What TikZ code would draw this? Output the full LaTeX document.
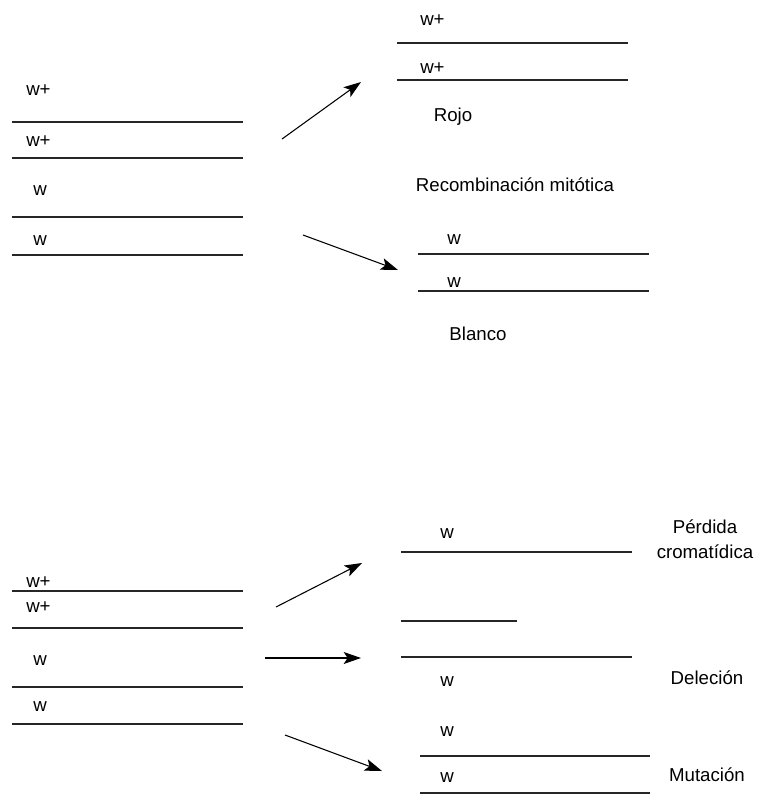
\documentclass[tikz,border=0pt]{standalone}
\usepackage{fontspec}
\setmainfont{Liberation Sans}
\usetikzlibrary{arrows.meta}
\tikzset{
  chrom/.style={line width=0.9pt, draw=black!85},
  gene/.style={anchor=base west, inner sep=0pt, font=\fontsize{14}{16}\selectfont},
  lbl/.style={anchor=base, inner sep=0pt, font=\fontsize{14}{16.5}\selectfont, align=center},
  arr/.style={line width=0.8pt, -{Stealth[length=13pt,width=9pt,inset=3pt]}}
}
\begin{document}
\begin{tikzpicture}[x=0.75pt,y=-0.75pt]
\useasboundingbox (0,0) rectangle (765,794);
% ---- top left
\node[gene] (g1) at (26,95) {w+};
\draw[chrom] (12,122) -- (243,122);
\node[gene] (g2) at (26,146) {w+};
\draw[chrom] (12,158) -- (243,158);
\node[gene] (g3) at (33,195) {w};
\draw[chrom] (12,217) -- (243,217);
\node[gene] (g4) at (33,245) {w};
\draw[chrom] (12,255) -- (243,255);
% arrows top
\coordinate (a1s) at (282,139); \coordinate (a1e) at (361,82);
\coordinate (a2s) at (303,235); \coordinate (a2e) at (398,270);
\draw[arr] (a1s) -- (a1e);
\draw[arr] (a2s) -- (a2e);
% ---- top right
\node[gene] (r1) at (420,25) {w+};
\draw[chrom] (397,43) -- (628,43);
\node[gene] (r2) at (420,73) {w+};
\draw[chrom] (397,80) -- (628,80);
\node[lbl] (rojo) at (453,121) {Rojo};
\node[lbl] (recomb) at (515,191) {Recombinación mitótica};
\node[gene] (r3) at (447,244) {w};
\draw[chrom] (418,254) -- (649,254);
\node[gene] (r4) at (447,287) {w};
\draw[chrom] (418,291) -- (649,291);
\node[lbl] (blanco) at (478,340) {Blanco};
% ---- bottom left
\node[gene] (b1) at (26,587) {w+};
\draw[chrom] (12,591) -- (243,591);
\node[gene] (b2) at (26,612) {w+};
\draw[chrom] (12,628) -- (243,628);
\node[gene] (b3) at (33,665) {w};
\draw[chrom] (12,687) -- (243,687);
\node[gene] (b4) at (33,711) {w};
\draw[chrom] (12,724) -- (243,724);
% arrows bottom
\coordinate (a3s) at (276,607); \coordinate (a3e) at (362,563);
\coordinate (a4s) at (265,658); \coordinate (a4e) at (361,658);
\coordinate (a5s) at (285,735); \coordinate (a5e) at (382,771);
\draw[arr] (a3s) -- (a3e);
\draw[arr] (a4s) -- (a4e);
\draw[arr] (a5s) -- (a5e);
% ---- bottom right
\node[gene] (c1) at (440,538) {w};
\draw[chrom] (401,552) -- (632,552);
\node[lbl] (perdida) at (705,533) {Pérdida};
\node[lbl] (cromat) at (705,558) {cromatídica};
\draw[chrom] (401,621) -- (517,621);
\draw[chrom] (401,657) -- (632,657);
\node[gene] (c2) at (440,686) {w};
\node[lbl] (delecion) at (707,684) {Deleción};
\node[gene] (c3) at (440,736) {w};
\draw[chrom] (420,756) -- (650,756);
\node[gene] (c4) at (440,782) {w};
\draw[chrom] (420,793) -- (650,793);
\node[lbl] (mutacion) at (707,781) {Mutación};
\end{tikzpicture}
\end{document}
